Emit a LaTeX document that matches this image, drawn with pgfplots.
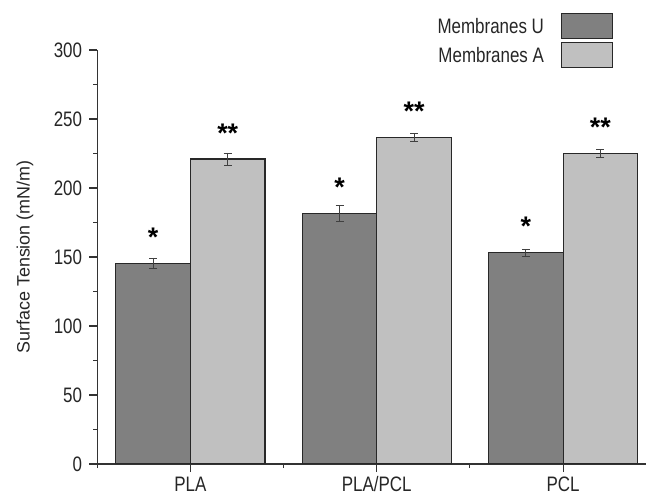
\documentclass[border=0pt]{standalone}
\usepackage{pgfplots}
\usepackage{pgfplotstable}
\usepackage{fontspec}
\setmainfont{Liberation Sans}
\newfontfamily\condfont[FakeStretch=0.81]{Liberation Sans}
\pgfplotsset{compat=1.18}
\definecolor{barU}{RGB}{128,128,128}
\definecolor{barA}{RGB}{192,192,192}
\definecolor{edge}{RGB}{40,40,40}

\pgfplotstableread{
x y e s
0.8 145.5 3.8 *
1.8 181.5 6.0 *
2.8 153.0 2.6 *
}\tableU
\pgfplotstableread{
x y e s
1.2 221.0 4.4 **
2.2 236.5 2.8 **
3.2 225.0 2.9 **
}\tableA

\begin{document}
\begin{tikzpicture}
\useasboundingbox (0,0) rectangle (646bp,496bp);
\begin{axis}[
  at={(97.3bp,32bp)}, anchor=south west,
  scale only axis, width=548.7bp, height=414bp,
  xmin=0.5, xmax=3.445, ymin=0, ymax=300,
  axis x line*=bottom, axis y line*=left,
  axis line style={line width=1.3bp, color=black!80},
  tick align=outside,
  major tick length=8bp, minor tick length=4bp,
  every tick/.style={line width=1.1bp, color=black!80},
  xtick={1,2,3}, xticklabels={PLA,PLA/PCL,PCL},
  minor xtick={0.5,1.5,2.5,3.5},
  ytick={0,50,100,150,200,250,300},
  minor ytick={25,75,125,175,225,275},
  /pgf/number format/assume math mode=true,
  tick label style={font=\condfont\fontsize{21}{24}\selectfont, color=black!85},
  yticklabel style={anchor=east, inner sep=0pt, xshift=-7bp},
  xticklabel style={anchor=base, inner sep=0pt, yshift=-19.5bp},
  ylabel={Surface Tension (mN/m)},
  ylabel style={at={(axis description cs:-0.1318,0.5)}, anchor=center, font=\fontsize{18}{21}\selectfont, color=black!85},
  legend plot pos=right,
  legend cell align=right,
  legend style={at={(axis description cs:0.94,1.089)}, anchor=north east,
    draw=none, fill=none, inner sep=0pt, outer sep=0pt,
    nodes={inner sep=0pt, font=\condfont\fontsize{21}{23}\selectfont, color=black!85},
    column sep=17bp, row sep=3bp},
  point meta=explicit symbolic,
  nodes near coords,
  every node near coord/.append style={anchor=base, yshift=17bp, font=\bfseries\fontsize{27}{30}\selectfont, color=black},
]
\addplot[ybar, bar width=0.4, bar shift=0pt, fill=barU, draw=edge, line width=1.1bp,
  legend image code/.code={\draw[fill=barU, draw=edge, line width=1.1bp] (0bp,-12.5bp) rectangle (51bp,12.5bp);},
  error bars/.cd, y dir=both, y explicit,
  error bar style={line width=0.8bp, color=black!75},
  error mark options={rotate=90, mark size=4bp, line width=0.8bp, color=black!75}]
  table[x=x, y=y, y error=e, meta=s] {\tableU};
\addlegendentry{Membranes U}
\addplot[ybar, bar width=0.4, bar shift=0pt, fill=barA, draw=edge, line width=1.1bp,
  legend image code/.code={\draw[fill=barA, draw=edge, line width=1.1bp] (0bp,-12.5bp) rectangle (51bp,12.5bp);},
  error bars/.cd, y dir=both, y explicit,
  error bar style={line width=0.8bp, color=black!75},
  error mark options={rotate=90, mark size=4bp, line width=0.8bp, color=black!75}]
  table[x=x, y=y, y error=e, meta=s] {\tableA};
\addlegendentry{Membranes A}
\end{axis}
\end{tikzpicture}
\end{document}
